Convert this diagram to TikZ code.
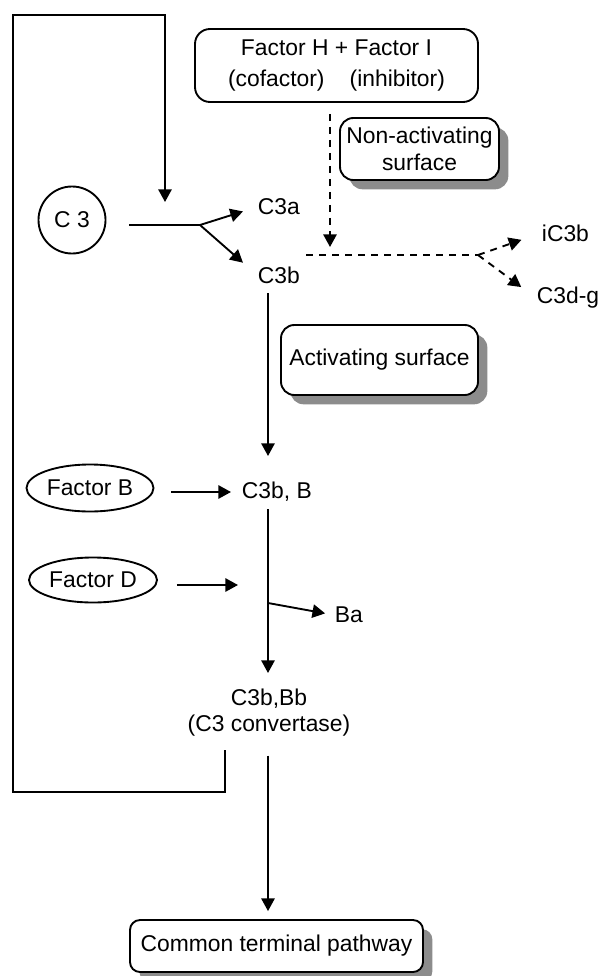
\documentclass[tikz,border=0pt]{standalone}
\usepackage{fontspec}
\setmainfont{Liberation Sans}
\usepackage{tikz}
\usetikzlibrary{calc,shadows}
\usetikzlibrary{arrows.meta,shapes.geometric}

\begin{document}
\begin{tikzpicture}[x=0.03cm,y=-0.03cm,line width=1.6pt,
    font=\fontsize{19.5}{22.5}\selectfont,
    arr/.style={-{Triangle[length=0.38cm,width=0.4cm]}},
    dsh/.style={dash pattern=on 0.21cm off 0.18cm},
    lbl/.style={inner sep=0pt},
    rbox/.style={draw,fill=white,rounded corners=0.4cm,align=center,inner sep=0pt},
    sbox/.style={rbox,drop shadow={shadow xshift=0.28cm,shadow yshift=-0.28cm,fill=black!45,opacity=1}},
    oval/.style={draw,ellipse,inner sep=0pt}]
    \useasboundingbox (0,0) rectangle (599,976);
    %% boxes
    \node[rbox,minimum width=8.49cm,minimum height=2.19cm,rounded corners=0.45cm] (fhi) at (336.5,65.5) {Factor H + Factor I\\[4pt](cofactor)\hspace{1.1em}(inhibitor)};
    \node[sbox,minimum width=4.77cm,minimum height=1.86cm] (nonact) at (419.5,149) {Non-activating\\surface};
    \node[sbox,minimum width=5.91cm,minimum height=2.1cm] (act) at (379.5,360) {Activating surface};
    \node[sbox,minimum width=8.79cm,minimum height=1.56cm,rounded corners=0.3cm] (ctp) at (276.5,946) {Common terminal pathway};
    \node[draw,circle,minimum size=2.01cm,inner sep=0pt] (c3) at (72,220) {C 3};
    \node[oval,minimum width=3.81cm,minimum height=1.41cm] (facb) at (90,488) {Factor B};
    \node[oval,minimum width=3.84cm,minimum height=1.35cm] (facd) at (93,580) {Factor D};
    %% products
    \node[lbl,anchor=west] (c3a) at (257,207) {C3a};
    \node[lbl,anchor=west] (c3b) at (257,275) {C3b};
    \node[lbl,anchor=west] (ic3b) at (541,233) {iC3b};
    \node[lbl,anchor=west] (c3dg) at (536,298) {C3d-g};
    \node[lbl,anchor=west] (c3bB) at (241,492) {C3b, B};
    \node[lbl,anchor=west] (ba) at (334,615) {Ba};
    \node[lbl,anchor=north,align=center] (conv) at (269,688) {C3b,Bb\\(C3 convertase)};
    %% junctions
    \coordinate (c3split) at (200,225);
    \coordinate (dv) at (330,255);
    \coordinate (dstart) at (306,255);
    \coordinate (dsplit) at (478,255);
    \coordinate (dtip) at (238,585);
    \coordinate (bj) at (268,603);
    \coordinate (lpA) at (225,750);
    \coordinate (lpC) at (13,15);
    \coordinate (lpB) at (165,202);
    %% feedback loop
    \draw[arr] (lpA) -- ++(0,42) -| (lpC) -| (lpB);
    %% C3 cleavage
    \draw[shorten <=0.68cm] (c3.east |- c3split) -- (c3split);
    \draw[arr,shorten >=0.44cm] (c3split) -- (c3a.west);
    \draw[arr,shorten >=0.56cm] (c3split) -- (c3b.west);
    %% inactivation
    \draw[dsh,arr,shorten <=0.33cm,shorten >=0.24cm] (fhi.south -| dv) -- (dv);
    \draw[dsh] (dstart) -- (dsplit);
    \draw[dsh,arr,shorten >=0.62cm] (dsplit) -- (ic3b.west);
    \draw[dsh,arr,shorten >=0.55cm] (dsplit) -- (c3dg.west);
    %% convertase
    \draw[arr,shorten <=0.27cm,shorten >=0.76cm] (c3b.south -| bj) -- (c3bB.north -| bj);
    \draw[arr,shorten <=0.5cm,shorten >=0.3cm] (facb.east |- c3bB.west) -- (c3bB.west);
    \draw[arr,shorten <=0.57cm] (facd.east |- dtip) -- (dtip);
    \draw[arr,shorten <=0.19cm,shorten >=0.45cm] (c3bB.south -| bj) -- (conv.north -| bj);
    \draw[arr,shorten >=0.27cm] (bj) -- (ba.west);
    \draw[arr,shorten <=0.54cm,shorten >=0.24cm] (conv.south -| bj) -- (ctp.north -| bj);
\end{tikzpicture}
\end{document}
